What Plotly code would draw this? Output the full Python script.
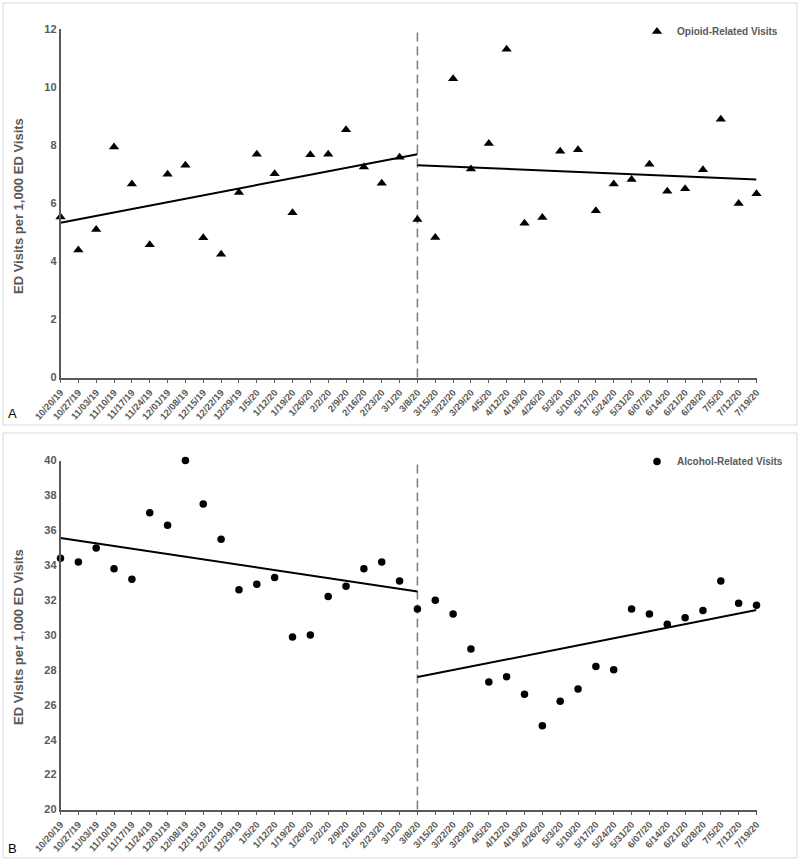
import plotly.graph_objects as go

dates = ["10/20/19", "10/27/19", "11/03/19", "11/10/19", "11/17/19", "11/24/19", "12/01/19",
         "12/08/19", "12/15/19", "12/22/19", "12/29/19", "1/5/20", "1/12/20", "1/19/20",
         "1/26/20", "2/2/20", "2/9/20", "2/16/20", "2/23/20", "3/1/20", "3/8/20", "3/15/20",
         "3/22/20", "3/29/20", "4/5/20", "4/12/20", "4/19/20", "4/26/20", "5/3/20", "5/10/20",
         "5/17/20", "5/24/20", "5/31/20", "6/07/20", "6/14/20", "6/21/20", "6/28/20", "7/5/20",
         "7/12/20", "7/19/20"]

opioid = [5.53, 4.39, 5.10, 7.94, 6.66, 4.57, 7.00, 7.31, 4.81, 4.24, 6.37, 7.69, 7.02, 5.67,
          7.67, 7.69, 8.53, 7.25, 6.69, 7.58, 5.44, 4.82, 10.29, 7.18, 8.06, 11.30, 5.31, 5.51,
          7.79, 7.84, 5.74, 6.66, 6.82, 7.34, 6.41, 6.50, 7.15, 8.89, 5.99, 6.33]

alcohol = [34.40, 34.19, 34.99, 33.79, 33.19, 37.00, 36.29, 40.00, 37.50, 35.49, 32.60, 32.91,
           33.29, 29.89, 30.00, 32.20, 32.79, 33.79, 34.19, 33.10, 31.49, 31.99, 31.20, 29.20,
           27.30, 27.61, 26.60, 24.80, 26.21, 26.90, 28.20, 28.01, 31.49, 31.20, 30.61, 30.99,
           31.40, 33.10, 31.82, 31.70]

break_date = "3/8/20"
pre_trend_x = ["10/20/19", "3/8/20"]
post_trend_x = ["3/8/20", "7/19/20"]
opioid_pre_trend = [5.33, 7.69]
opioid_post_trend = [7.31, 6.82]
alcohol_pre_trend = [35.56, 32.49]
alcohol_post_trend = [27.59, 31.43]

W, H = 800, 863
FONT = "Liberation Sans, Arial, sans-serif"
GRAY = "#595959"

def py(px):
    return 1 - px / H

fig = go.Figure()

# Panel A
fig.add_trace(go.Scatter(x=dates, y=opioid, mode="markers", name="Opioid-Related Visits",
                         marker=dict(symbol="triangle-up", size=9, color="black"),
                         xaxis="x", yaxis="y", cliponaxis=False, legend="legend"))
for tx, ty in [(pre_trend_x, opioid_pre_trend), (post_trend_x, opioid_post_trend)]:
    fig.add_trace(go.Scatter(x=tx, y=ty, mode="lines", line=dict(color="black", width=2),
                             showlegend=False, xaxis="x", yaxis="y", cliponaxis=False))

# Panel B
fig.add_trace(go.Scatter(x=dates, y=alcohol, mode="markers", name="Alcohol-Related Visits",
                         marker=dict(symbol="circle", size=7.5, color="black"),
                         xaxis="x2", yaxis="y2", cliponaxis=False, legend="legend2"))
for tx, ty in [(pre_trend_x, alcohol_pre_trend), (post_trend_x, alcohol_post_trend)]:
    fig.add_trace(go.Scatter(x=tx, y=ty, mode="lines", line=dict(color="black", width=2),
                             showlegend=False, xaxis="x2", yaxis="y2", cliponaxis=False))

xdom = [60.5 / W, 756.5 / W]
xcommon = dict(type="category", categoryorder="array", categoryarray=dates, range=[0, 39],
               domain=xdom, showgrid=False, zeroline=False, showline=True, linecolor=GRAY,
               linewidth=1.5, ticks="outside", ticklen=4, tickcolor=GRAY, tickwidth=1.2,
               tickangle=-48, automargin=False,
               tickfont=dict(family=FONT, size=9.5, color=GRAY, weight="bold"))
ycommon = dict(showgrid=False, zeroline=False, showline=True, linecolor=GRAY, linewidth=1.5,
               ticks="", automargin=False,
               tickfont=dict(family=FONT, size=11, color=GRAY, weight="bold"))

legfont = dict(family=FONT, size=10, color=GRAY, weight="bold")
fig.update_layout(
    width=W, height=H, margin=dict(l=0, r=0, t=0, b=0),
    paper_bgcolor="white", plot_bgcolor="white",
    font=dict(family=FONT, color=GRAY),
    xaxis=dict(xcommon, anchor="y"),
    yaxis=dict(ycommon, domain=[py(377.5), py(29)], range=[0, 12], dtick=2, anchor="x"),
    xaxis2=dict(xcommon, anchor="y2"),
    yaxis2=dict(ycommon, domain=[py(809.5), py(460.5)], range=[20, 40], dtick=2, anchor="x2"),
    legend=dict(x=637 / W, y=py(17), xanchor="left", yanchor="top", bgcolor="rgba(0,0,0,0)",
                font=legfont, itemwidth=30, tracegroupgap=0),
    legend2=dict(x=637 / W, y=py(447), xanchor="left", yanchor="top", bgcolor="rgba(0,0,0,0)",
                 font=legfont, itemwidth=30, tracegroupgap=0),
)

shapes = []
# panel boxes
shapes.append(dict(type="rect", xref="paper", yref="paper", x0=3 / W, x1=797 / W,
                   y0=py(425), y1=py(3), line=dict(color="#d9d9d9", width=1)))
shapes.append(dict(type="rect", xref="paper", yref="paper", x0=3 / W, x1=797 / W,
                   y0=py(858), y1=py(433), line=dict(color="#d9d9d9", width=1)))
# dashed break lines
for xr, yr in [("x", "y domain"), ("x2", "y2 domain")]:
    shapes.append(dict(type="line", xref=xr, yref=yr, x0=break_date, x1=break_date, y0=0, y1=1,
                       line=dict(color="#808080", width=1.6, dash="9px,5px"), layer="below"))
fig.update_layout(shapes=shapes)

annotations = [
    dict(text="ED Visits per 1,000 ED Visits", xref="paper", yref="paper", x=18 / W,
         y=py(206), xanchor="center", yanchor="middle", textangle=-90, showarrow=False,
         font=dict(family=FONT, size=13, color=GRAY, weight="bold")),
    dict(text="ED Visits per 1,000 ED Visits", xref="paper", yref="paper", x=18 / W,
         y=py(637), xanchor="center", yanchor="middle", textangle=-90, showarrow=False,
         font=dict(family=FONT, size=13, color=GRAY, weight="bold")),
    dict(text="A", xref="paper", yref="paper", x=12 / W, y=py(414), xanchor="center",
         yanchor="middle", showarrow=False, font=dict(family=FONT, size=13, color="black")),
    dict(text="B", xref="paper", yref="paper", x=12 / W, y=py(848), xanchor="center",
         yanchor="middle", showarrow=False, font=dict(family=FONT, size=13, color="black")),
]
fig.update_layout(annotations=annotations)

fig.write_html("out.html", config={"displayModeBar": False},
               post_script="document.body.style.margin='0';document.body.style.overflow='hidden';")
